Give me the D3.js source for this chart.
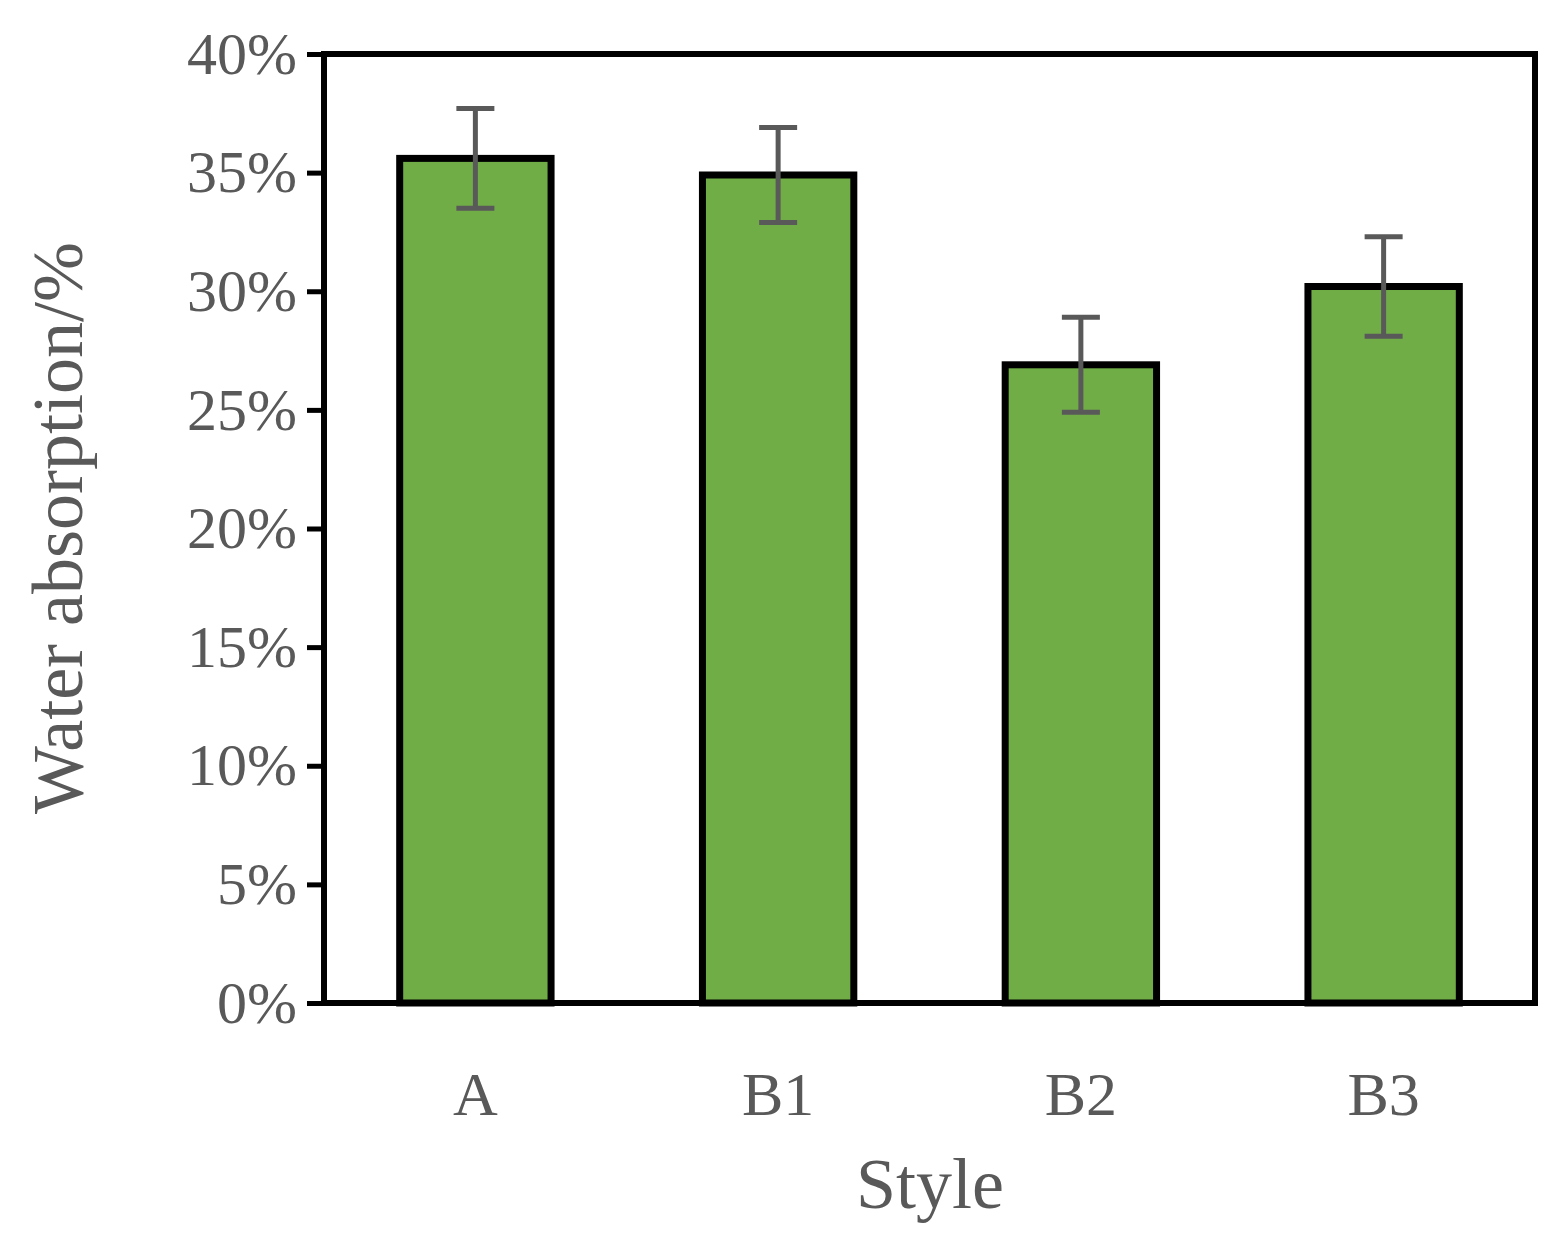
<!DOCTYPE html>
<html><head><meta charset="utf-8">
<script src="https://cdn.jsdelivr.net/npm/d3@7"></script>
<style>body{margin:0;background:#fff}</style>
</head><body>
<script>
const categories = ['A', 'B1', 'B2', 'B3'];
const values = [0.356, 0.349, 0.269, 0.302];
const errors = [0.021, 0.020, 0.020, 0.021];
const yTicks = [0, 0.05, 0.10, 0.15, 0.20, 0.25, 0.30, 0.35, 0.40];

const W = 1562, H = 1251;
const m = {left: 324, right: 1535, top: 54, bottom: 1003};
const svg = d3.select('body').append('svg').attr('width', W).attr('height', H);

const x = d3.scaleBand().domain(categories).range([m.left, m.right]).paddingInner(0.5).paddingOuter(0.25);
const y = d3.scaleLinear().domain([0, 0.4]).range([m.bottom, m.top]);
const grey = '#595959';
const font = '"Liberation Serif", "Times New Roman", serif';

// bars
svg.append('g').selectAll('rect').data(categories).enter().append('rect')
  .attr('x', d => x(d)).attr('width', x.bandwidth())
  .attr('y', (d, i) => y(values[i])).attr('height', (d, i) => y(0) - y(values[i]))
  .attr('fill', '#70AD47').attr('stroke', '#000').attr('stroke-width', 7);

// error bars
const eb = svg.append('g').attr('stroke', grey).attr('stroke-width', 5);
categories.forEach((c, i) => {
  const cx = x(c) + x.bandwidth() / 2;
  const hi = y(values[i] + errors[i]), lo = y(values[i] - errors[i]);
  eb.append('line').attr('x1', cx).attr('x2', cx).attr('y1', hi).attr('y2', lo);
  eb.append('line').attr('x1', cx - 19).attr('x2', cx + 19).attr('y1', hi).attr('y2', hi);
  eb.append('line').attr('x1', cx - 19).attr('x2', cx + 19).attr('y1', lo).attr('y2', lo);
});

// frame
svg.append('rect').attr('x', m.left).attr('y', m.top)
  .attr('width', m.right - m.left).attr('height', m.bottom - m.top)
  .attr('fill', 'none').attr('stroke', '#000').attr('stroke-width', 6);

// y axis
const ya = svg.append('g').attr('transform', `translate(${m.left},0)`)
  .call(d3.axisLeft(y).tickValues(yTicks).tickFormat(d3.format('.0%')).tickSize(17).tickPadding(10));
ya.select('.domain').remove();
ya.selectAll('line').attr('stroke', '#000').attr('stroke-width', 5);
ya.selectAll('text').attr('fill', grey).style('font-family', font).style('font-size', '60px');

// x labels
svg.append('g').selectAll('text').data(categories).enter().append('text')
  .attr('x', d => x(d) + x.bandwidth() / 2).attr('y', 1115)
  .attr('text-anchor', 'middle').attr('fill', grey)
  .style('font-family', font).style('font-size', '62px').text(d => d);

svg.append('text').attr('x', 930).attr('y', 1208).attr('text-anchor', 'middle')
  .attr('fill', grey).style('font-family', font).style('font-size', '72px').text('Style');

svg.append('text').attr('transform', 'translate(82,528) rotate(-90)').attr('text-anchor', 'middle')
  .attr('fill', grey).style('font-family', font).style('font-size', '72px').text('Water absorption/%');
</script>
</body></html>
